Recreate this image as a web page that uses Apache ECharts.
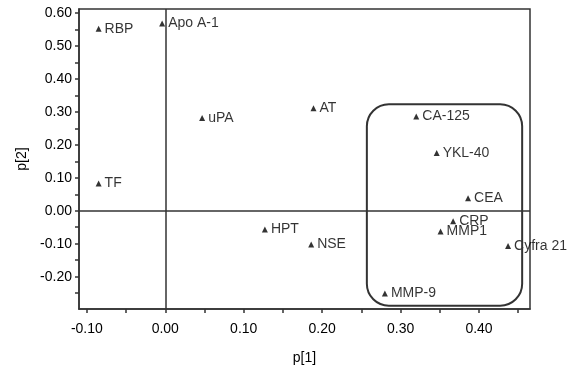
<!DOCTYPE html>
<html>
<head>
<meta charset="utf-8">
<script src="https://cdn.jsdelivr.net/npm/echarts@6/dist/echarts.min.js"></script>
<style>
  html, body { margin: 0; padding: 0; background: #fff; }
  #chart { width: 577px; height: 370px; }
</style>
</head>
<body>
<div id="chart"></div>
<script>
// loadings
const names = ['RBP', 'Apo A-1', 'uPA', 'TF', 'AT', 'CA-125', 'YKL-40', 'CEA', 'CRP', 'MMP1', 'HPT', 'NSE', 'Cyfra 21', 'MMP-9']
const p1 = [-0.085, -0.004, 0.047, -0.085, 0.189, 0.320, 0.346, 0.386, 0.367, 0.351, 0.127, 0.186, 0.437, 0.280]
const p2 = [0.552, 0.568, 0.281, 0.083, 0.311, 0.286, 0.175, 0.038, -0.032, -0.063, -0.057, -0.102, -0.107, -0.251]

const xTicks = [-0.10, -0.05, 0.00, 0.05, 0.10, 0.15, 0.20, 0.25, 0.30, 0.35, 0.40, 0.45]
const xLabels = [-0.10, 0.00, 0.10, 0.20, 0.30, 0.40]
const yTicks = [-0.25, -0.20, -0.15, -0.10, -0.05, 0.00, 0.05, 0.10, 0.15, 0.20, 0.25, 0.30, 0.35, 0.40, 0.45, 0.50, 0.55, 0.60]
const yLabels = [-0.20, -0.10, 0.00, 0.10, 0.20, 0.30, 0.40, 0.50, 0.60]

// cluster outline: [p1 from, p1 to, p2 top, p2 bottom]
const clusterBox = [0.257, 0.455, 0.323, -0.288]

const font = "'Liberation Sans', Arial, sans-serif"
const ink = '#333'

let chart = echarts.init(document.getElementById('chart'))
let option = {
  animation: false,
  grid: {
    left: 79, right: 47, top: 9, bottom: 59,
    show: true,
    borderColor: ink,
    borderWidth: 1.5,
  },
  xAxis: {
    type: 'value',
    min: -0.11,
    max: 0.465,
    name: 'p[1]',
    nameLocation: 'middle',
    nameGap: 42,
    nameTextStyle: { color: '#000', fontSize: 14, fontFamily: font, verticalAlign: 'top' },
    splitLine: { show: false },
    axisLine: { onZero: false, lineStyle: { color: ink, width: 1.5 } },
    axisTick: { customValues: xTicks, length: 4, lineStyle: { color: ink, width: 1.5 } },
    axisLabel: {
      customValues: xLabels,
      margin: 13,
      color: '#000', fontSize: 14, fontFamily: font,
      formatter: v => v.toFixed(2),
    },
  },
  yAxis: {
    type: 'value',
    min: -0.298,
    max: 0.612,
    name: 'p[2]',
    nameLocation: 'middle',
    nameGap: 47,
    nameTextStyle: { color: '#000', fontSize: 14, fontFamily: font },
    splitLine: { show: false },
    axisLine: { onZero: false, lineStyle: { color: ink, width: 1.5 } },
    axisTick: { customValues: yTicks, length: 4, lineStyle: { color: ink, width: 1.5 } },
    axisLabel: {
      customValues: yLabels,
      margin: 7,
      color: '#000', fontSize: 14, fontFamily: font,
      formatter: v => v.toFixed(2),
    },
  },
  series: [
    {
      type: 'scatter',
      symbol: 'triangle',
      symbolSize: 6,
      itemStyle: { color: '#000' },
      data: names.map((n, i) => ({ name: n, value: [p1[i], p2[i]] })),
      label: {
        show: true,
        position: 'right',
        distance: 3,
        formatter: '{b}',
        color: '#000',
        fontSize: 14,
        fontFamily: font,
      },
      markLine: {
        silent: true,
        symbol: 'none',
        label: { show: false },
        lineStyle: { color: ink, width: 1.5, type: 'solid' },
        data: [{ xAxis: 0 }, { yAxis: 0 }],
      },
    },
  ],
}
chart.setOption(option)

// rounded outline around the cluster, placed through the axes
let tl = chart.convertToPixel({ gridIndex: 0 }, [clusterBox[0], clusterBox[2]])
let br = chart.convertToPixel({ gridIndex: 0 }, [clusterBox[1], clusterBox[3]])
chart.setOption({
  graphic: [{
    type: 'rect',
    z: 10,
    shape: { x: tl[0], y: tl[1], width: br[0] - tl[0], height: br[1] - tl[1], r: 22 },
    style: { fill: 'none', stroke: ink, lineWidth: 2 },
  }],
})
</script>
</body>
</html>
